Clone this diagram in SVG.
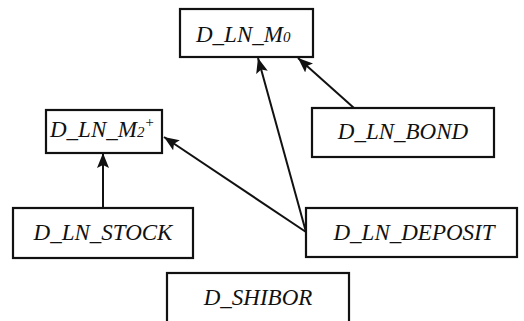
<svg xmlns="http://www.w3.org/2000/svg" width="524" height="321" viewBox="0 0 524 321">
<style>
.box{fill:#fff;stroke:#111;stroke-width:2.2}
.lbl{font-family:"Liberation Serif","Times New Roman",serif;font-style:italic;font-size:23px;fill:#111}
.sm{font-size:15px}
.edge{stroke:#111;stroke-width:2;fill:none;marker-end:url(#ah)}
</style>
<defs>
<marker id="ah" markerUnits="userSpaceOnUse" markerWidth="16" markerHeight="12" refX="15" refY="6" orient="auto">
<path d="M0,0 L15,6 L0,12 L3,6 Z" fill="#111"/>
</marker>
</defs>
<rect width="524" height="321" fill="#fff"/>
<g id="connectors">
<line class="edge" x1="103" y1="208" x2="103" y2="153"/>
<line class="edge" x1="306" y1="232" x2="164" y2="137"/>
<line class="edge" x1="306" y1="232" x2="258" y2="58"/>
<line class="edge" x1="354" y1="108" x2="298" y2="58"/>
</g>
<g id="M0">
<rect class="box" x="180" y="9" width="133" height="48"/>
<text class="lbl" x="196" y="42">D_LN_M<tspan class="sm">0</tspan></text>
</g>
<g id="M2">
<rect class="box" x="46" y="110" width="116" height="43"/>
<text class="lbl" x="50" y="137">D_LN_M<tspan class="sm">2</tspan><tspan class="sm" dy="-10">+</tspan></text>
</g>
<g id="BOND">
<rect class="box" x="312" y="108" width="182" height="49"/>
<text class="lbl" x="403" y="139" text-anchor="middle">D_LN_BOND</text>
</g>
<g id="STOCK">
<rect class="box" x="13" y="208" width="180" height="50"/>
<text class="lbl" x="103" y="240" text-anchor="middle">D_LN_STOCK</text>
</g>
<g id="DEPOSIT">
<rect class="box" x="306" y="208" width="211" height="49"/>
<text class="lbl" x="414" y="240" text-anchor="middle">D_LN_DEPOSIT</text>
</g>
<g id="SHIBOR">
<rect class="box" x="167" y="273" width="182" height="55"/>
<text class="lbl" x="258" y="305" text-anchor="middle">D_SHIBOR</text>
</g>
</svg>
